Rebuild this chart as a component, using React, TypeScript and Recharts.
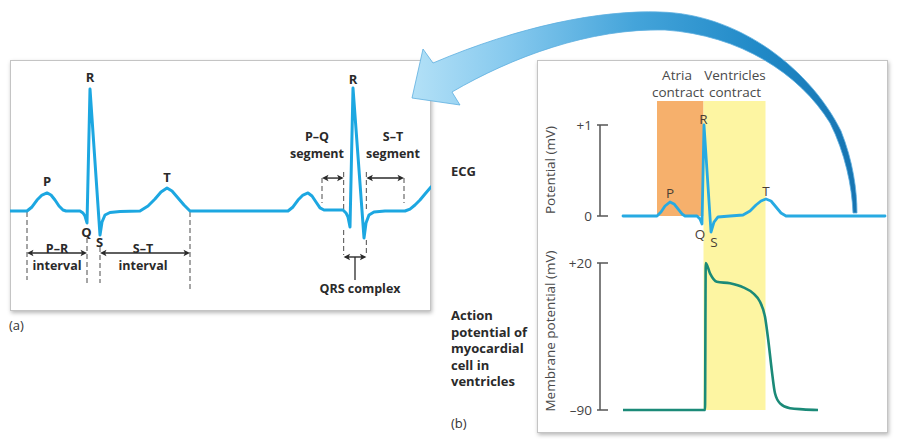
import React from 'react';
import {
  LineChart,
  Line,
  XAxis,
  YAxis,
  ReferenceLine,
  ReferenceDot,
  ReferenceArea,
  Surface,
} from 'recharts';

const FONT = '"Open Sans", "Noto Sans", sans-serif';

// ---------- (a) ECG trace: time (ms) and potential (mV) ----------
const ecgATime = [
  0, 42.5, 55, 67.5, 80, 92.5, 102.5, 112.5, 122.5, 132.5, 140, 175, 182.5, 187.5, 192.5, 200, 225, 230, 237.5, 250,
  275, 325, 345, 362.5, 377.5, 392.5, 405, 420, 435, 450,
  695, 707.5, 720, 732.5, 745, 755, 765, 775, 785, 832.5, 840, 845, 850, 857.5, 885, 890, 897.5, 910, 937.5, 987.5,
  1000, 1012.5, 1025, 1037.5, 1052.5,
];
const ecgAMv = [
  0, 0, 0.033, 0.09, 0.131, 0.148, 0.131, 0.09, 0.041, 0.008, 0, 0, -0.016, -0.041, -0.098, 1.0, -0.197, -0.09, -0.033, -0.012,
  -0.004, 0, 0.041, 0.098, 0.156, 0.189, 0.164, 0.107, 0.049, 0,
  0, 0.033, 0.09, 0.131, 0.148, 0.123, 0.074, 0.025, 0.008, 0.008, -0.016, -0.049, -0.131, 1.008, -0.221, -0.098, -0.033, -0.008, 0, 0,
  0.016, 0.049, 0.09, 0.139, 0.197,
];

// event times in (a), ms
const aPStart = 42.5;
const aQ = 192.5;
const aS = 225;
const aTEnd = 450;
const aPEnd2 = 780;
const aQRSStart2 = 834;
const aQRSEnd2 = 891;
const aTStart2 = 985;

// ---------- (b) ECG trace ----------
const ecgBTime = [92, 228, 244, 260, 280, 296, 312, 328, 340, 388, 400, 408, 416, 444, 456, 472, 520, 572, 600, 624, 644, 664, 684, 704, 724, 744, 1140];
const ecgBMv = [0, 0, 0.044, 0.11, 0.154, 0.132, 0.077, 0.022, 0, 0, -0.033, -0.088, 1.0, -0.176, -0.066, -0.011, 0, 0.011, 0.055, 0.121, 0.165, 0.187, 0.165, 0.099, 0.033, 0, 0];

// ---------- (b) ventricular action potential ----------
const apTime = [92, 420, 423, 440, 467, 520, 573, 613, 640, 660, 673, 687, 700, 720, 760, 812, 872];
const apMv = [-90, -90, 20, 12.3, 6, 4.8, 1.8, -2.7, -9, -20.2, -37.6, -60.1, -77.5, -85, -88.7, -89.5, -90];

// contraction phases (ms)
const atriaContract = [228, 414];
const ventriclesContract = [414, 662];

const ecgTicks = [0, 1];
const ecgTickLabels = ['0', '+1'];
const apTicks = [-90, 20];
const apTickLabels = ['–90', '+20'];

const ecgBDomain = [-2.1319, 1.2637];
const apDomain = [-90, 141.22];

const ecgA = ecgATime.map((t, i) => ({ t, v: ecgAMv[i] }));
const ecgB = ecgBTime.map((t, i) => ({ t, v: ecgBMv[i] }));
const ap = apTime.map((t, i) => ({ t, v: apMv[i] }));

const boxStyle = (left: number, top: number, width: number, height: number): React.CSSProperties => ({
  position: 'absolute',
  left,
  top,
  width,
  height,
  border: '1px solid #c4c4c4',
  boxShadow: '1px 2px 4px rgba(0,0,0,0.28)',
  boxSizing: 'border-box',
  background: '#fff',
});

const DARK = '#2a2a2a';

const doubleArrow = (props: any) => {
  const { x1, y1, x2 } = props;
  const a = 6.5;
  const w = 3.2;
  const lx = Math.min(x1, x2);
  const rx = Math.max(x1, x2);
  const y = y1;
  return (
    <g>
      <line x1={lx + 2} y1={y} x2={rx - 2} y2={y} stroke={DARK} strokeWidth={1.4} />
      <path d={`M${lx},${y} L${lx + a},${y - w} L${lx + a - 1.5},${y} L${lx + a},${y + w} Z`} fill={DARK} />
      <path d={`M${rx},${y} L${rx - a},${y - w} L${rx - a + 1.5},${y} L${rx - a},${y + w} Z`} fill={DARK} />
    </g>
  );
};

const dash = { stroke: '#6a6a6a', strokeWidth: 1.2, strokeDasharray: '5 3' };

const boldLbl = (value: string, position: any, offset: number) => ({
  value,
  position,
  offset,
  fill: DARK,
  fontSize: 13,
  fontWeight: 700,
  fontFamily: FONT,
});
const regLbl = (value: string, position: any, offset: number) => ({
  value,
  position,
  offset,
  fill: '#4a3f35',
  fontSize: 13.5,
  fontFamily: FONT,
});
const tickLbl = (value: string) => ({
  value,
  position: 'left' as any,
  offset: 5,
  fill: '#444',
  fontSize: 13.5,
  fontFamily: FONT,
});

export default function App() {
  return (
    <div
      style={{
        position: 'absolute',
        left: 0,
        top: 0,
        width: 906,
        height: 439,
        background: '#fff',
        fontFamily: FONT,
        overflow: 'hidden',
      }}
    >
      <div style={boxStyle(10, 60, 421, 251)} />
      <div style={boxStyle(537, 60, 351, 373)} />

      {/* ---------- panel (a) ---------- */}
      <div style={{ position: 'absolute', left: 10, top: 60 }}>
        <LineChart width={421} height={251} margin={{ top: 0, right: 0, bottom: 0, left: 0 }}>
          <XAxis type="number" dataKey="t" domain={[0, 1052.5]} hide />
          <YAxis type="number" domain={[-0.8197, 1.2377]} hide />

          <ReferenceLine segment={[{ x: aPStart, y: -0.008 }, { x: aPStart, y: -0.566 }]} {...dash} />
          <ReferenceLine segment={[{ x: aQ, y: -0.221 }, { x: aQ, y: -0.59 }]} {...dash} />
          <ReferenceLine segment={[{ x: aS, y: -0.295 }, { x: aS, y: -0.59 }]} {...dash} />
          <ReferenceLine segment={[{ x: aTEnd, y: -0.008 }, { x: aTEnd, y: -0.664 }]} {...dash} />
          <ReferenceLine segment={[{ x: aPStart, y: -0.344 }, { x: aQ, y: -0.344 }]} shape={doubleArrow} />
          <ReferenceLine segment={[{ x: aS, y: -0.344 }, { x: aTEnd, y: -0.344 }]} shape={doubleArrow} />

          <ReferenceLine segment={[{ x: aPEnd2, y: 0.27 }, { x: aPEnd2, y: 0.066 }]} {...dash} />
          <ReferenceLine segment={[{ x: aQRSStart2, y: 0.32 }, { x: aQRSStart2, y: 0.008 }]} {...dash} />
          <ReferenceLine segment={[{ x: aQRSEnd2, y: 0.32 }, { x: aQRSEnd2, y: 0.008 }]} {...dash} />
          <ReferenceLine segment={[{ x: aTStart2, y: 0.27 }, { x: aTStart2, y: 0.066 }]} {...dash} />
          <ReferenceLine segment={[{ x: aPEnd2, y: 0.27 }, { x: aQRSStart2, y: 0.27 }]} shape={doubleArrow} />
          <ReferenceLine segment={[{ x: aQRSEnd2, y: 0.27 }, { x: aTStart2, y: 0.27 }]} shape={doubleArrow} />

          <ReferenceLine segment={[{ x: aQRSStart2, y: -0.156 }, { x: aQRSStart2, y: -0.361 }]} {...dash} />
          <ReferenceLine segment={[{ x: aQRSEnd2, y: -0.238 }, { x: aQRSEnd2, y: -0.361 }]} {...dash} />
          <ReferenceLine segment={[{ x: aQRSStart2, y: -0.377 }, { x: aQRSEnd2, y: -0.377 }]} shape={doubleArrow} />
          <ReferenceLine
            segment={[{ x: (aQRSStart2 + aQRSEnd2) / 2, y: -0.377 }, { x: (aQRSStart2 + aQRSEnd2) / 2, y: -0.566 }]}
            stroke={DARK}
            strokeWidth={1.3}
          />

          <Line
            data={ecgA}
            dataKey="v"
            type="linear"
            stroke="#1ca7e1"
            strokeWidth={3}
            strokeLinejoin="round"
            strokeLinecap="round"
            dot={false}
            activeDot={false}
            isAnimationActive={false}
          />

          <ReferenceDot x={92.5} y={0.148} r={0} fill="none" stroke="none" label={boldLbl('P', 'top', 6.5)} />
          <ReferenceDot x={191} y={-0.098} r={0} fill="none" stroke="none" label={boldLbl('Q', 'bottom', 4.5)} />
          <ReferenceDot x={200} y={1.0} r={0} fill="none" stroke="none" label={boldLbl('R', 'top', 6.5)} />
          <ReferenceDot x={224} y={-0.197} r={0} fill="none" stroke="none" label={boldLbl('S', 'bottom', 3)} />
          <ReferenceDot x={392.5} y={0.189} r={0} fill="none" stroke="none" label={boldLbl('T', 'top', 5.5)} />
          <ReferenceDot x={857.5} y={1.008} r={0} fill="none" stroke="none" label={boldLbl('R', 'top', 4.5)} />
        </LineChart>
      </div>

      {/* ---------- panel (b) ---------- */}
      <div style={{ position: 'absolute', left: 537, top: 60 }}>
        <LineChart width={351} height={373} margin={{ top: 41, right: 0, bottom: 23, left: 63 }}>
          <XAxis type="number" dataKey="t" domain={[0, 1152]} hide />
          <YAxis yAxisId="ecg" type="number" domain={ecgBDomain} hide />
          <YAxis yAxisId="ap" type="number" domain={apDomain} hide />

          <ReferenceArea
            yAxisId="ecg"
            x1={atriaContract[0]}
            x2={atriaContract[1]}
            y1={0}
            y2={ecgBDomain[1]}
            fill="#f6b06c"
            fillOpacity={1}
            stroke="none"
          />
          <ReferenceArea
            yAxisId="ap"
            x1={ventriclesContract[0]}
            x2={ventriclesContract[1]}
            y1={apDomain[0]}
            y2={apDomain[1]}
            fill="#fdf5a2"
            fillOpacity={1}
            stroke="none"
          />

          <ReferenceLine yAxisId="ecg" segment={[{ x: 0, y: ecgTicks[0] }, { x: 0, y: ecgTicks[1] }]} stroke="#555" strokeWidth={1.5} />
          {ecgTicks.map((v, i) => (
            <ReferenceLine
              key={'et' + i}
              yAxisId="ecg"
              ifOverflow="visible"
              segment={[{ x: -12, y: v }, { x: 32, y: v }]}
              stroke="#555"
              strokeWidth={1.5}
              label={tickLbl(ecgTickLabels[i])}
            />
          ))}
          <ReferenceLine yAxisId="ap" segment={[{ x: 0, y: apTicks[0] }, { x: 0, y: apTicks[1] }]} stroke="#555" strokeWidth={1.5} />
          {apTicks.map((v, i) => (
            <ReferenceLine
              key={'at' + i}
              yAxisId="ap"
              ifOverflow="visible"
              segment={[{ x: -12, y: v }, { x: 32, y: v }]}
              stroke="#555"
              strokeWidth={1.5}
              label={tickLbl(apTickLabels[i])}
            />
          ))}

          <Line
            yAxisId="ap"
            data={ap}
            dataKey="v"
            type="monotone"
            stroke="#1b8a78"
            strokeWidth={2.6}
            dot={false}
            activeDot={false}
            isAnimationActive={false}
          />
          <Line
            yAxisId="ecg"
            data={ecgB}
            dataKey="v"
            type="linear"
            stroke="#27aae2"
            strokeWidth={2.8}
            strokeLinejoin="round"
            strokeLinecap="round"
            dot={false}
            activeDot={false}
            isAnimationActive={false}
          />

          <ReferenceDot yAxisId="ecg" x={280} y={0.154} r={0} fill="none" stroke="none" label={regLbl('P', 'top', 4)} />
          <ReferenceDot yAxisId="ecg" x={400} y={-0.088} r={0} fill="none" stroke="none" label={regLbl('Q', 'bottom', 5)} />
          <ReferenceDot yAxisId="ecg" x={414} y={1.0} r={0} fill="none" stroke="none" label={regLbl('R', 'top', 0.5)} />
          <ReferenceDot yAxisId="ecg" x={456} y={-0.176} r={0} fill="none" stroke="none" label={regLbl('S', 'bottom', 5)} />
          <ReferenceDot yAxisId="ecg" x={664} y={0.187} r={0} fill="none" stroke="none" label={regLbl('T', 'top', 3)} />
        </LineChart>
      </div>

      {/* ---------- overlay: texts and big arrow ---------- */}
      <Surface
        width={906}
        height={439}
        style={{ position: 'absolute', left: 0, top: 0, pointerEvents: 'none' }}
      >
        <defs>
          <linearGradient id="arrowGrad" gradientUnits="userSpaceOnUse" x1={410} y1={0} x2={860} y2={0}>
            <stop offset="0" stopColor="#b4e1f7" />
            <stop offset="0.22" stopColor="#86c9ee" />
            <stop offset="0.5" stopColor="#44a4da" />
            <stop offset="0.78" stopColor="#2089c7" />
            <stop offset="1" stopColor="#1673b0" />
          </linearGradient>
        </defs>
        <path
          d="M433,63 C520,26 600,10 660,12 C742,14 812,72 841,131 C853,161 857,190 857,213 L853,213 C852,186 845,153 830,123 C800,74 740,35 665,30 C590,28 512,57 452,92 L460,105 L412,98 L423,49 Z"
          fill="url(#arrowGrad)"
          stroke="#5daee0"
          strokeWidth={0.8}
          strokeLinejoin="round"
        />

        {/* panel (a) annotations */}
        <g fontFamily={FONT} fontWeight={700} fontSize={12.5} fill={DARK} textAnchor="middle">
          <text x={57} y={252.5}>P–R</text>
          <text x={57} y={270}>interval</text>
          <text x={143} y={252.5}>S–T</text>
          <text x={143} y={270}>interval</text>
          <text x={317} y={141}>P–Q</text>
          <text x={317} y={158}>segment</text>
          <text x={393} y={141}>S–T</text>
          <text x={393} y={158}>segment</text>
          <text x={360} y={292.5}>QRS complex</text>
        </g>
        <text x={9} y={330} fontFamily={FONT} fontSize={13} fill="#333">(a)</text>

        {/* middle labels */}
        <g fontFamily={FONT} fontWeight={700} fontSize={13} fill={DARK}>
          <text x={451} y={175.5}>ECG</text>
          <text x={451} y={320}>Action</text>
          <text x={451} y={336.5}>potential of</text>
          <text x={451} y={353}>myocardial</text>
          <text x={451} y={369.5}>cell in</text>
          <text x={451} y={386}>ventricles</text>
        </g>
        <text x={451} y={427.5} fontFamily={FONT} fontSize={13} fill="#333">(b)</text>

        {/* panel (b) labels */}
        <g fontFamily={FONT} fontSize={13.5} fill="#4a4a4a" textAnchor="middle">
          <text x={677} y={80}>Atria</text>
          <text x={678} y={96.5}>contract</text>
          <text x={735} y={80}>Ventricles</text>
          <text x={735} y={96.5}>contract</text>
          <text x={551} y={170} transform="rotate(-90 551 170)" dominantBaseline="middle">Potential (mV)</text>
          <text x={551} y={331} transform="rotate(-90 551 331)" dominantBaseline="middle">Membrane potential (mV)</text>
        </g>
      </Surface>
    </div>
  );
}
